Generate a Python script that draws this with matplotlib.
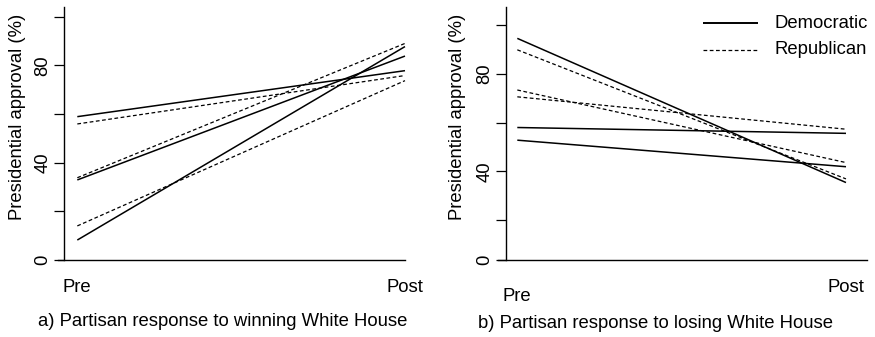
import matplotlib
matplotlib.use("Agg")
import matplotlib.pyplot as plt
import matplotlib.transforms as mtransforms

plt.rcParams['font.family'] = ['Liberation Sans', 'DejaVu Sans']

# data
conds = ["Pre", "Post"]
xpos = [1, 2]
win_dem = [[58.9, 77.8], [32.9, 83.8], [8.2, 87.7]]
win_rep = [[55.9, 75.8], [33.8, 89.0], [14.0, 73.7]]
lose_dem = [[94.6, 35.4], [58.0, 55.6], [52.8, 41.9]]
lose_rep = [[89.9, 36.9], [73.4, 43.6], [70.6, 57.3]]
yticks = [0, 20, 40, 60, 80, 100]
ytick_labels = ["0", "", "40", "", "80", ""]
captions = ["a) Partisan response to winning White House",
            "b) Partisan response to losing White House"]

FS = 13.3
DASH = (0, (3, 2))

fig = plt.figure(figsize=(8.75, 3.37), dpi=100)
W, H = 875, 337


def px_axes(x0, x1, y0, y1):
    # pixel box (top-left origin) -> axes
    return fig.add_axes([x0 / W, 1 - y1 / H, (x1 - x0) / W, (y1 - y0) / H])


def setup(ax, xlim, ylim, bottom_bounds, ticks):
    ax.set_xlim(*xlim)
    ax.set_ylim(*ylim)
    for s in ["top", "right"]:
        ax.spines[s].set_visible(False)
    ax.spines["left"].set_linewidth(1.0)
    ax.spines["bottom"].set_linewidth(1.0)
    ax.spines["bottom"].set_bounds(*bottom_bounds)
    ax.set_xticks([])
    ax.set_yticks(ticks)
    ax.set_yticklabels(ytick_labels, rotation=90, va="center", fontsize=FS)
    ax.tick_params(axis="y", length=7, width=0.9, pad=2)
    ax.patch.set_visible(False)


# panel a
ax1 = px_axes(64.2, 418.1, 6.9, 260)
for ys in win_dem:
    ax1.plot(xpos, ys, color="black", lw=1.1, solid_capstyle="butt")
for ys in win_rep:
    ax1.plot(xpos, ys, color="black", lw=0.9, linestyle=DASH)
setup(ax1, (0.96, 2.04), (0, 104), (0.94, 2.0), yticks)

# panel b (bottom of axis squeezed in the original)
b_lo = 3.6
ax2 = px_axes(505.8, 869, 6.7, 260)
for ys in lose_dem:
    ax2.plot(xpos, ys, color="black", lw=1.1, solid_capstyle="butt")
for ys in lose_rep:
    ax2.plot(xpos, ys, color="black", lw=0.9, linestyle=DASH)
setup(ax2, (0.965, 2.07), (b_lo, 107.6), (0.94, 2.064), [b_lo] + yticks[1:])

for ax in (ax1, ax2):
    ax.set_ylabel("Presidential approval (%)", fontsize=FS)

ax1.yaxis.set_label_coords(26 / W, 1 - 117 / H, transform=fig.transFigure)
ax2.yaxis.set_label_coords(466 / W, 1 - 117 / H, transform=fig.transFigure)

# Pre / Post labels
tr1 = mtransforms.blended_transform_factory(ax1.transData, fig.transFigure)
tr2 = mtransforms.blended_transform_factory(ax2.transData, fig.transFigure)
ax1.text(xpos[0], 1 - 288 / H, conds[0], transform=tr1, ha="center", va="center", fontsize=FS)
ax1.text(xpos[1], 1 - 288 / H, conds[1], transform=tr1, ha="center", va="center", fontsize=FS)
ax2.text(xpos[0], 1 - 296.5 / H, conds[0], transform=tr2, ha="center", va="center", fontsize=FS)
ax2.text(xpos[1], 1 - 287.5 / H, conds[1], transform=tr2, ha="center", va="center", fontsize=FS)

fig.text(222.5 / W, 1 - 321.7 / H, captions[0], ha="center", va="center", fontsize=FS)
fig.text(655.8 / W, 1 - 323.3 / H, captions[1], ha="center", va="center", fontsize=FS)

# legend drawn by hand like the R original
leg_ax = fig.add_axes([0, 0, 1, 1])
leg_ax.set_axis_off()
leg_ax.set_xlim(0, W)
leg_ax.set_ylim(H, 0)
leg_ax.plot([702.7, 757.7], [23.3, 23.3], color="black", lw=1.4, solid_capstyle="butt")
leg_ax.plot([702.7, 757.7], [50, 50], color="black", lw=0.9, linestyle=DASH)
leg_ax.text(775, 23.3, "Democratic", ha="left", va="center", fontsize=FS)
leg_ax.text(775, 50, "Republican", ha="left", va="center", fontsize=FS)

fig.savefig("out.png", dpi=100)
